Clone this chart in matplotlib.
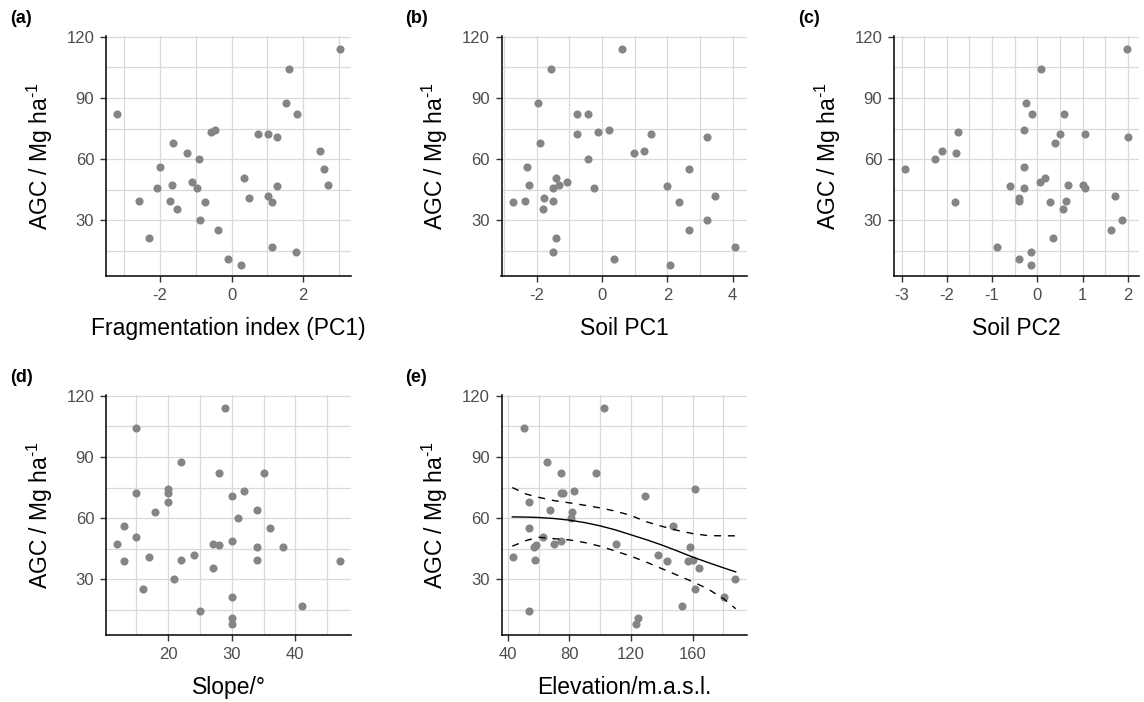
import numpy as np
import matplotlib
matplotlib.use('Agg')
import matplotlib.pyplot as plt
from matplotlib.ticker import MultipleLocator

plt.rcParams['font.family'] = ['Liberation Sans', 'DejaVu Sans']
plt.rcParams['mathtext.fontset'] = 'custom'
plt.rcParams['mathtext.rm'] = 'Liberation Sans'
plt.rcParams['mathtext.it'] = 'Liberation Sans:italic'
plt.rcParams['mathtext.bf'] = 'Liberation Sans:bold'
plt.rcParams['axes.unicode_minus'] = False

# above-ground carbon per plot (Mg/ha), same plot order in every predictor list
agc = [114.3, 104.1, 87.5, 82.0, 82.0, 74.2, 73.2, 72.5, 72.5, 71.0,
       67.8, 63.9, 63.1, 60.0, 56.0, 55.2, 50.5, 48.9, 47.4, 47.4,
       46.7, 45.8, 45.8, 41.8, 40.9, 39.4, 39.4, 38.8, 38.8, 35.5,
       30.0, 25.4, 21.3, 16.6, 14.2, 11.0, 7.9]

frag_pc1 = [3.02, 1.60, 1.52, -3.19, 1.82, -0.46, -0.56, 0.75, 1.02, 1.26,
            -1.62, 2.48, -1.23, -0.91, -1.99, 2.59, 0.34, -1.09, 2.68, -1.67,
            1.26, -2.07, -0.96, 1.02, 0.48, -2.58, -1.72, -0.73, 1.14, -1.53,
            -0.87, -0.37, -2.31, 1.14, 1.79, -0.10, 0.26]

soil_pc1 = [0.60, -1.55, -1.95, -0.77, -0.42, 0.21, -0.13, -0.77, 1.49, 3.21,
            -1.90, 1.30, 0.99, -0.42, -2.30, 2.67, -1.41, -1.06, -2.23, -1.32,
            1.99, -1.51, -0.23, 3.45, -1.76, -2.35, -1.51, -2.73, 2.36, -1.81,
            3.21, 2.67, -1.41, 4.08, -1.51, 0.36, 2.08]

soil_pc2 = [1.97, 0.09, -0.26, -0.12, 0.60, -0.29, -1.75, 0.49, 1.06, 2.00,
            0.38, -2.10, -1.79, -2.25, -0.29, -2.92, 0.17, 0.06, 0.67, 1.02,
            -0.61, -0.29, 1.06, 1.72, -0.40, -0.40, 0.63, -1.82, 0.27, 0.56,
            1.87, 1.63, 0.35, -0.90, -0.15, -0.40, -0.15]

slope = [29, 15, 22, 28, 35, 20, 32, 15, 20, 30,
         20, 34, 18, 31, 13, 36, 15, 30, 12, 27,
         28, 34, 38, 24, 17, 22, 34, 13, 47, 27,
         21, 16, 30, 41, 25, 30, 30]

elevation = [102.5, 50.6, 65.2, 74.3, 97.3, 161.8, 82.9, 74.3, 75.6, 129.2,
             53.8, 67.2, 81.6, 81.0, 147.1, 53.6, 62.6, 74.5, 70.2, 110.5,
             58.3, 57.0, 158.5, 137.8, 43.2, 57.7, 160.5, 143.2, 157.2, 163.9,
             187.8, 161.8, 180.5, 153.1, 53.8, 124.5, 123.0]

# fitted AGC ~ elevation with confidence band
elev_fit = [43, 52, 60, 70, 80, 90, 100, 110, 120, 130, 140, 150, 160, 170, 180, 188]
agc_fit = [60.6, 60.5, 60.3, 59.8, 59.0, 57.8, 56.2, 54.2, 51.8, 49.4,
           46.8, 43.9, 40.9, 38.2, 35.6, 33.6]
agc_upr = [75.0, 71.8, 70.2, 68.6, 67.5, 66.3, 65.0, 63.4, 61.3, 58.2,
           56.0, 54.0, 52.4, 51.4, 51.3, 51.3]
agc_lwr = [46.2, 49.0, 50.6, 49.9, 49.3, 48.0, 46.2, 43.8, 41.3, 38.4,
           35.2, 32.0, 28.8, 25.2, 20.5, 15.5]

W, H = 1144, 702
fig = plt.figure(figsize=(W / 100, H / 100), dpi=100)
fig.set_facecolor('white')

GRID = '#D9D9D9'
PT = '#858585'
TICKC = '#4D4D4D'


def panel(left, top, x, xlabel, tag, major, minor):
    right, bottom = left + 245, top + 239.7
    ax = fig.add_axes([left / W, 1 - bottom / H, (right - left) / W, (bottom - top) / H])
    # ggplot style 5% padding on x
    span = max(x) - min(x)
    ax.set_xlim(min(x) - 0.05 * span, max(x) + 0.05 * span)
    ax.set_ylim(2.6, 120.3)
    ax.xaxis.set_major_locator(MultipleLocator(major))
    ax.xaxis.set_minor_locator(MultipleLocator(minor))
    ax.yaxis.set_major_locator(MultipleLocator(30))
    ax.yaxis.set_minor_locator(MultipleLocator(15))
    ax.grid(True, which='both', color=GRID, linewidth=0.9, zorder=0)
    ax.set_axisbelow(True)
    for s in ['top', 'right']:
        ax.spines[s].set_visible(False)
    for s in ['left', 'bottom']:
        ax.spines[s].set_color('black')
        ax.spines[s].set_linewidth(1.1)
    ax.tick_params(which='major', length=4, width=1.0, color='#333333',
                   labelsize=12, labelcolor=TICKC, pad=4.5)
    ax.tick_params(which='minor', length=0)
    ax.scatter(x, agc, s=34, color=PT, linewidths=0, zorder=3)
    ax.set_xlabel(xlabel, fontsize=16.5)
    ax.xaxis.set_label_coords(0.5, -0.17)
    ax.set_ylabel(r'AGC / Mg ha$^{\text{-1}}$', fontsize=16.5)
    ax.yaxis.set_label_coords(-0.21, 0.5)
    fig.text((left - 96) / W, 1 - (top - 18) / H, tag, fontsize=13,
             fontweight='bold', va='center', ha='left')
    return ax


panel(106, 36.3, frag_pc1, 'Fragmentation index (PC1)', '(a)', 2, 1)
panel(501.5, 36.3, soil_pc1, 'Soil PC1', '(b)', 2, 1)
panel(894, 36.3, soil_pc2, 'Soil PC2', '(c)', 1, 0.5)
panel(106, 395.3, slope, 'Slope/°', '(d)', 10, 5)
ax = panel(501.5, 395.3, elevation, 'Elevation/m.a.s.l.', '(e)', 40, 20)

ax.plot(elev_fit, agc_fit, color='black', linewidth=1.0, zorder=4)
ax.plot(elev_fit, agc_upr, color='black', linewidth=1.0, dashes=(5, 5), zorder=4)
ax.plot(elev_fit, agc_lwr, color='black', linewidth=1.0, dashes=(5, 5), zorder=4)

fig.savefig('out.png', dpi=100, facecolor='white')
